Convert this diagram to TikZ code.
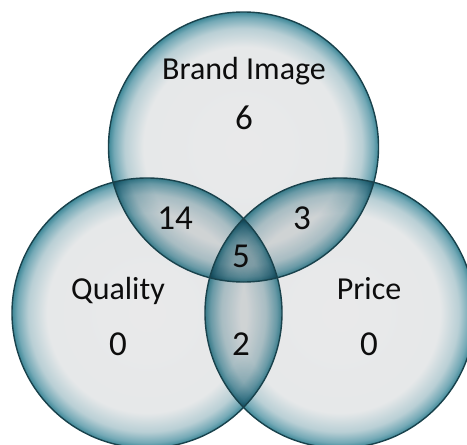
\documentclass[tikz,border=0pt]{standalone}
\usepackage{fontspec}
\setmainfont{Carlito}
\definecolor{vline}{rgb}{0.10,0.26,0.30}
\definecolor{vtext}{rgb}{0.05,0.05,0.05}
\pgfdeclareradialshading{vennshade}{\pgfpoint{0bp}{0bp}}{rgb(0bp)=(0.914,0.914,0.918); rgb(18.5bp)=(0.902,0.910,0.914); rgb(22bp)=(0.725,0.812,0.835); rgb(24bp)=(0.455,0.663,0.714); rgb(25bp)=(0.240,0.530,0.592); rgb(50bp)=(0.240,0.530,0.592)}
\begin{document}
\begin{tikzpicture}[x=1pt,y=-1pt,
  setfill/.style={shading=vennshade},
  setline/.style={draw=vline,line width=1.4pt},
  lab/.style={anchor=base,text=vtext,font=\fontsize{32}{32}\selectfont,inner sep=0pt},
  num/.style={anchor=base,text=vtext,font=\fontsize{35}{35}\selectfont,inner sep=0pt}]
\fill[white] (0,0) rectangle (467,445);
\useasboundingbox (0,0) rectangle (467,445);
\coordinate (cb) at (243.5,147);
\coordinate (cq) at (147,313);
\coordinate (cp) at (340,313);
\begin{scope}
\clip (0,0) rectangle (467,445);
\begin{scope}[blend mode=multiply]
\shade[setfill] (cb) circle[radius=135];
\shade[setfill] (cq) circle[radius=135];
\shade[setfill] (cp) circle[radius=135];
\end{scope}
\draw[setline] (cb) circle[radius=135];
\draw[setline] (cq) circle[radius=135];
\draw[setline] (cp) circle[radius=135];
\end{scope}
\node[lab] (tb) at (244,79) {Brand Image};
\node[num] (nb) at (244,129) {6};
\node[num] (nbq) at (175,229) {14};
\node[num] (nbp) at (302,229) {3};
\node[num] (nall) at (241,267) {5};
\node[lab] (tq) at (118,299) {Quality};
\node[lab] (tp) at (369,299) {Price};
\node[num] (nq) at (118,355) {0};
\node[num] (nqp) at (241,355) {2};
\node[num] (np) at (369,355) {0};
\end{tikzpicture}
\end{document}
